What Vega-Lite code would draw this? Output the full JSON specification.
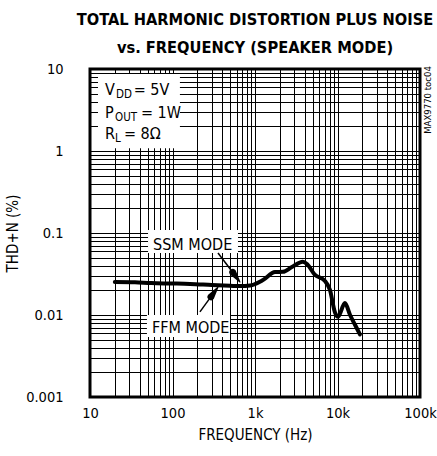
{
  "$schema": "https://vega.github.io/schema/vega-lite/v6.json",
  "width": 330,
  "height": 328,
  "autosize": "none",
  "padding": {"left": 90, "top": 69, "right": 17, "bottom": 59},
  "background": "white",
  "config": {
    "view": {"stroke": "black", "strokeWidth": 3},
    "font": "DejaVu Sans Condensed, sans-serif"
  },
  "title": {
    "text": ["TOTAL HARMONIC DISTORTION PLUS NOISE", "vs. FREQUENCY (SPEAKER MODE)"],
    "font": "DejaVu Sans Condensed, sans-serif",
    "fontSize": 16.3,
    "fontWeight": "bold",
    "color": "black",
    "anchor": "middle",
    "baseline": "bottom",
    "lineHeight": 28,
    "offset": -11
  },
  "datasets": {
    "curve": [
      {"freq": 20, "thdn": 0.0252},
      {"freq": 35, "thdn": 0.0250},
      {"freq": 55, "thdn": 0.0245},
      {"freq": 100, "thdn": 0.0242},
      {"freq": 163, "thdn": 0.0239},
      {"freq": 300, "thdn": 0.0232},
      {"freq": 500, "thdn": 0.0227},
      {"freq": 660, "thdn": 0.0225},
      {"freq": 870, "thdn": 0.0229},
      {"freq": 1250, "thdn": 0.0267},
      {"freq": 1750, "thdn": 0.0334},
      {"freq": 2180, "thdn": 0.0336},
      {"freq": 2800, "thdn": 0.0385},
      {"freq": 3800, "thdn": 0.0445},
      {"freq": 4300, "thdn": 0.0415},
      {"freq": 5300, "thdn": 0.0310},
      {"freq": 7000, "thdn": 0.0262},
      {"freq": 8100, "thdn": 0.0202},
      {"freq": 9300, "thdn": 0.0108},
      {"freq": 10150, "thdn": 0.0095},
      {"freq": 12300, "thdn": 0.0140},
      {"freq": 14200, "thdn": 0.0100},
      {"freq": 16300, "thdn": 0.0076},
      {"freq": 18700, "thdn": 0.0058}
    ],
    "boxes": [
      {"f1": 12.5, "f2": 123, "v1": 1.08, "v2": 8.68},
      {"f1": 50.5, "f2": 622, "v1": 0.057, "v2": 0.109},
      {"f1": 49, "f2": 498, "v1": 0.0054, "v2": 0.0100}
    ],
    "arrows": [
      {"f1": 356, "v1": 0.057, "f2": 545, "v2": 0.0325},
      {"f1": 215, "v1": 0.0109, "f2": 296, "v2": 0.0170}
    ],
    "heads": [
      {"id": "ssm", "k": 0, "freq": 538, "thdn": 0.0331, "w": 7},
      {"id": "ssm", "k": 1, "freq": 658, "thdn": 0.0252, "w": 0},
      {"id": "ffm", "k": 0, "freq": 293, "thdn": 0.0167, "w": 7},
      {"id": "ffm", "k": 1, "freq": 356, "thdn": 0.0219, "w": 0}
    ],
    "texts": [
      {"freq": 15.2, "thdn": 4.80, "label": "V"},
      {"freq": 33.8, "thdn": 4.80, "label": "= 5V"},
      {"freq": 15.2, "thdn": 2.505, "label": "P"},
      {"freq": 41.5, "thdn": 2.505, "label": "= 1W"},
      {"freq": 15.2, "thdn": 1.384, "label": "R"},
      {"freq": 25.8, "thdn": 1.384, "label": "= 8Ω"},
      {"freq": 58.1, "thdn": 0.0621, "label": "SSM MODE"},
      {"freq": 56.4, "thdn": 0.00602, "label": "FFM MODE"}
    ],
    "subs": [
      {"freq": 20.7, "thdn": 4.41, "label": "DD"},
      {"freq": 20.1, "thdn": 2.30, "label": "OUT"},
      {"freq": 20.1, "thdn": 1.27, "label": "L"}
    ],
    "tag": [
      {"freq": 125000, "thdn": 4.19, "label": "MAX9770 toc04"}
    ]
  },
  "layer": [
    {
      "data": {"name": "boxes"},
      "mark": {"type": "rect", "fill": "white", "stroke": null},
      "encoding": {
        "x": {
          "field": "f1", "type": "quantitative",
          "scale": {"type": "log", "domain": [10, 100000]},
          "axis": {
            "values": [10,20,30,40,50,60,70,80,90,100,200,300,400,500,600,700,800,900,1000,2000,3000,4000,5000,6000,7000,8000,9000,10000,20000,30000,40000,50000,60000,70000,80000,90000,100000],
            "labelExpr": "datum.value==10?'10':datum.value==100?'100':datum.value==1000?'1k':datum.value==10000?'10k':datum.value==100000?'100k':''",
            "title": "FREQUENCY (Hz)",
            "grid": true, "gridColor": "black", "gridOpacity": 1, "gridWidth": 1,
            "ticks": false, "domain": false,
            "labelOverlap": false, "labelFlush": false, "labelBound": false,
            "labelFontSize": 14.5, "labelColor": "black", "labelPadding": 9,
            "labelFont": "DejaVu Sans Condensed, sans-serif",
            "titleFont": "DejaVu Sans Condensed, sans-serif",
            "titleFontSize": 15, "titleFontWeight": "normal", "titleColor": "black", "titlePadding": 8
          }
        },
        "x2": {"field": "f2"},
        "y": {
          "field": "v1", "type": "quantitative",
          "scale": {"type": "log", "domain": [0.001, 10]},
          "axis": {
            "values": [0.001,0.002,0.003,0.004,0.005,0.006,0.007,0.008,0.009,0.01,0.02,0.03,0.04,0.05,0.06,0.07,0.08,0.09,0.1,0.2,0.3,0.4,0.5,0.6,0.7,0.8,0.9,1,2,3,4,5,6,7,8,9,10],
            "labelExpr": "datum.value==10?'10':datum.value==1?'1':datum.value==0.1?'0.1':datum.value==0.01?'0.01':datum.value==0.001?'0.001':''",
            "title": "THD+N (%)",
            "grid": true, "gridColor": "black", "gridOpacity": 1, "gridWidth": 1,
            "ticks": false, "domain": false,
            "labelOverlap": false, "labelFlush": false, "labelBound": false,
            "labelFontSize": 14.5, "labelColor": "black", "labelPadding": 27,
            "labelFont": "DejaVu Sans Condensed, sans-serif",
            "titleFont": "DejaVu Sans Condensed, sans-serif",
            "titleFontSize": 15, "titleFontWeight": "normal", "titleColor": "black", "titlePadding": 5
          }
        },
        "y2": {"field": "v2"}
      }
    },
    {
      "data": {"name": "curve"},
      "mark": {"type": "line", "color": "black", "strokeWidth": 4, "interpolate": "monotone", "strokeCap": "round", "strokeJoin": "round"},
      "encoding": {
        "x": {"field": "freq", "type": "quantitative"},
        "y": {"field": "thdn", "type": "quantitative"}
      }
    },
    {
      "data": {"name": "arrows"},
      "mark": {"type": "rule", "color": "black", "strokeWidth": 1.5},
      "encoding": {
        "x": {"field": "f1", "type": "quantitative"},
        "y": {"field": "v1", "type": "quantitative"},
        "x2": {"field": "f2"},
        "y2": {"field": "v2"}
      }
    },
    {
      "data": {"name": "heads"},
      "mark": {"type": "trail", "color": "black", "opacity": 1},
      "encoding": {
        "x": {"field": "freq", "type": "quantitative"},
        "y": {"field": "thdn", "type": "quantitative"},
        "size": {"field": "w", "type": "quantitative", "scale": null},
        "detail": {"field": "id"},
        "order": {"field": "k"}
      }
    },
    {
      "data": {"name": "texts"},
      "mark": {"type": "text", "align": "left", "baseline": "alphabetic", "fontSize": 16, "color": "black"},
      "encoding": {
        "x": {"field": "freq", "type": "quantitative"},
        "y": {"field": "thdn", "type": "quantitative"},
        "text": {"field": "label"}
      }
    },
    {
      "data": {"name": "subs"},
      "mark": {"type": "text", "align": "left", "baseline": "alphabetic", "fontSize": 11.5, "color": "black"},
      "encoding": {
        "x": {"field": "freq", "type": "quantitative"},
        "y": {"field": "thdn", "type": "quantitative"},
        "text": {"field": "label"}
      }
    },
    {
      "data": {"name": "tag"},
      "mark": {"type": "text", "align": "center", "baseline": "middle", "fontSize": 9.5, "angle": 270, "color": "black"},
      "encoding": {
        "x": {"field": "freq", "type": "quantitative"},
        "y": {"field": "thdn", "type": "quantitative"},
        "text": {"field": "label"}
      }
    }
  ]
}
